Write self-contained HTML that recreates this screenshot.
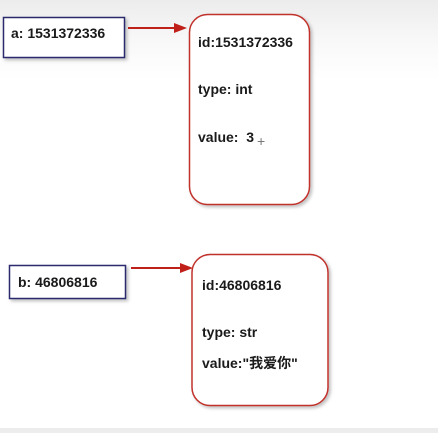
<!DOCTYPE html>
<html><head><meta charset="utf-8"><style>
html,body{margin:0;padding:0;}
body{width:438px;height:428px;overflow:hidden;background:linear-gradient(#ececec 0px,#f8f8f8 40px,#fff 80px);}
svg text{font-family:"Liberation Sans","Noto Sans CJK SC",sans-serif;font-weight:bold;font-size:14px;fill:#1a1a1a;}
</style></head><body>
<svg width="438" height="428" xmlns="http://www.w3.org/2000/svg">
<defs>
<filter id="sh" x="-10%" y="-10%" width="130%" height="130%"><feDropShadow dx="2" dy="2" stdDeviation="1.5" flood-color="#000" flood-opacity="0.25"/></filter>
</defs>
<rect x="3.5" y="17.5" width="121" height="40" fill="#fff" stroke="#2a2a6e" stroke-width="1.5" filter="url(#sh)"/>
<text x="11" y="38">a: 1531372336</text>
<line x1="128" y1="28" x2="176" y2="28" stroke="#c0201a" stroke-width="2"/>
<polygon points="174,23 187,28 174,33" fill="#c0201a"/>
<rect x="189.5" y="14.5" width="120" height="190" rx="18" fill="#fff" stroke="#c0302a" stroke-width="1.5" filter="url(#sh)"/>
<text x="198" y="47">id:1531372336</text>
<text x="198" y="94">type: int</text>
<text x="198" y="142">value:&#160; 3</text>
<text x="257" y="146" style="font-weight:normal;fill:#777;font-size:14px">+</text>

<rect x="9.5" y="265.5" width="116" height="33" fill="#fff" stroke="#2a2a6e" stroke-width="1.5" filter="url(#sh)"/>
<text x="18" y="287">b: 46806816</text>
<line x1="131" y1="268" x2="182" y2="268" stroke="#c0201a" stroke-width="2"/>
<polygon points="180,263 193,268 180,273" fill="#c0201a"/>
<rect x="192" y="254.5" width="136" height="151" rx="18" fill="#fff" stroke="#c0302a" stroke-width="1.5" filter="url(#sh)"/>
<text x="202" y="290">id:46806816</text>
<text x="202" y="337">type: str</text>
<text x="202" y="368">value:"我爱你"</text>
</svg>
</body></html>
